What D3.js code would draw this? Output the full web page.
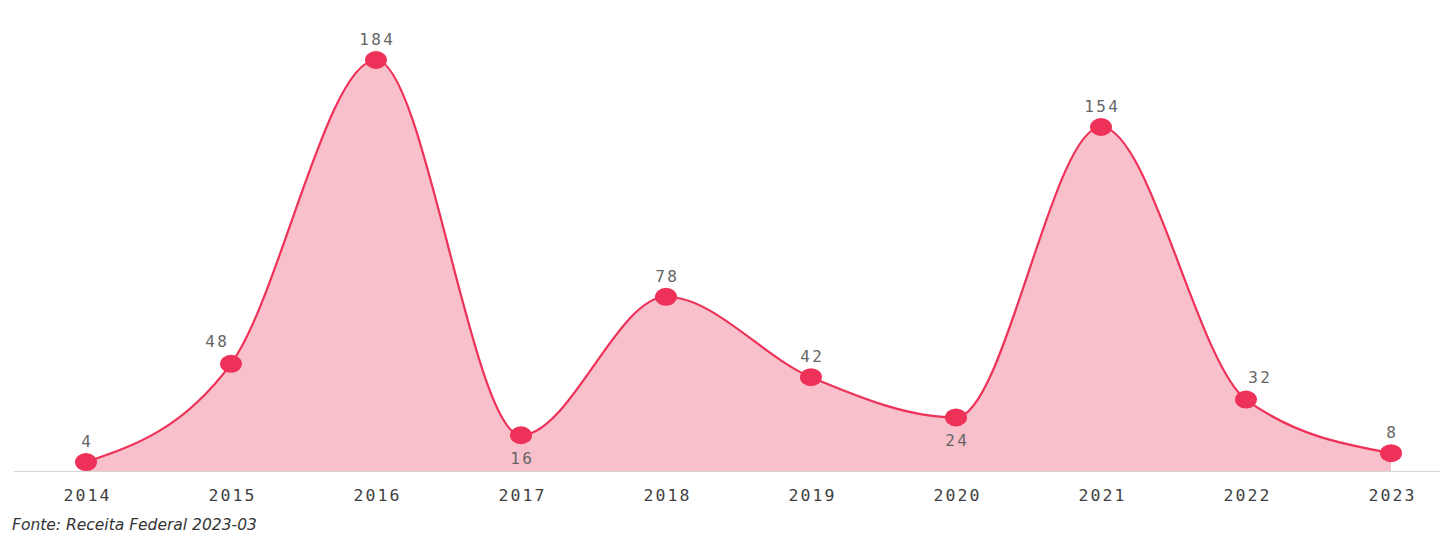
<!DOCTYPE html>
<html>
<head>
<meta charset="utf-8">
<script src="https://cdn.jsdelivr.net/npm/d3@7"></script>
<style>
  html, body { margin: 0; padding: 0; background: #fff; }
  svg { display: block; }
</style>
</head>
<body>
<svg id="chart" width="1440" height="533"></svg>
<script>
// Yearly counts
const years = ["2014", "2015", "2016", "2017", "2018", "2019", "2020", "2021", "2022", "2023"];
const counts = [4, 48, 184, 16, 78, 42, 24, 154, 32, 8];
const sourceNote = "Fonte: Receita Federal 2023-03";

const W = 1440, H = 533;
const svg = d3.select("#chart");

const x = d3.scalePoint().domain(years).range([86, 1391]);
const y = d3.scaleLinear().domain([0, 184]).range([471, 60]);

const data = years.map((yr, i) => ({ year: yr, value: counts[i], i }));

const LINE = "#ee3158";
const FILL = "#f8c0cb";
const MONO = "'DejaVu Sans Mono', monospace";
const SPACING = 2.4;

// Filled area under the curve
const area = d3.area()
  .x(d => x(d.year))
  .y0(y(0))
  .y1(d => y(d.value))
  .curve(d3.curveMonotoneX);

svg.append("path")
  .datum(data)
  .attr("d", area)
  .attr("fill", FILL);

// Baseline axis
const axis = svg.append("g")
  .attr("transform", `translate(0,${y(0)})`)
  .call(d3.axisBottom(x).tickSize(0).tickPadding(0));
axis.select(".domain").remove();
axis.append("line")
  .attr("x1", 14).attr("x2", W)
  .attr("y1", 0.5).attr("y2", 0.5)
  .attr("stroke", "#d6d6d6").attr("stroke-width", 1.2);
axis.selectAll(".tick text")
  .attr("font-family", MONO)
  .attr("font-size", 16.5)
  .attr("letter-spacing", 2.1)
  .attr("fill", "#3f3f3f")
  .attr("dy", null)
  .attr("y", 30)
  .attr("dx", 1.05);

// Curve
const line = d3.line()
  .x(d => x(d.year))
  .y(d => y(d.value))
  .curve(d3.curveMonotoneX);

svg.append("path")
  .datum(data)
  .attr("d", line)
  .attr("fill", "none")
  .attr("stroke", LINE)
  .attr("stroke-width", 2.2);

// Point markers
svg.selectAll("ellipse.pt")
  .data(data)
  .enter().append("ellipse")
  .attr("class", "pt")
  .attr("cx", d => x(d.year))
  .attr("cy", d => y(d.value))
  .attr("rx", 11)
  .attr("ry", 9)
  .attr("fill", LINE);

// Value labels: below local minima, shifted sideways on steep slopes
function placement(d) {
  const prev = d.i > 0 ? counts[d.i - 1] : null;
  const next = d.i < counts.length - 1 ? counts[d.i + 1] : null;
  if (prev !== null && next !== null && d.value < prev && d.value < next) return "below";
  if (prev !== null && next !== null) {
    const diff = next - prev;
    if (diff > 100) return "left";
    if (diff < -100) return "right";
  }
  return "above";
}

svg.selectAll("text.val")
  .data(data)
  .enter().append("text")
  .attr("class", "val")
  .attr("font-family", MONO)
  .attr("font-size", 16)
  .attr("letter-spacing", SPACING)
  .attr("fill", "#666")
  .attr("text-anchor", "middle")
  .attr("x", d => {
    const p = placement(d);
    const base = x(d.year) + SPACING / 2;
    if (p === "left") return base - 15;
    if (p === "right") return base + 13;
    return base;
  })
  .attr("y", d => {
    const p = placement(d);
    if (p === "below") return y(d.value) + 29;
    if (p === "left" || p === "right") return y(d.value) - 17;
    return y(d.value) - 15;
  })
  .text(d => d.value);

// Source note
svg.append("text")
  .attr("x", 12)
  .attr("y", 530)
  .attr("font-family", "'DejaVu Sans', sans-serif")
  .attr("font-style", "italic")
  .attr("font-size", 15.5)
  .attr("fill", "#333")
  .text(sourceNote);
</script>
</body>
</html>
